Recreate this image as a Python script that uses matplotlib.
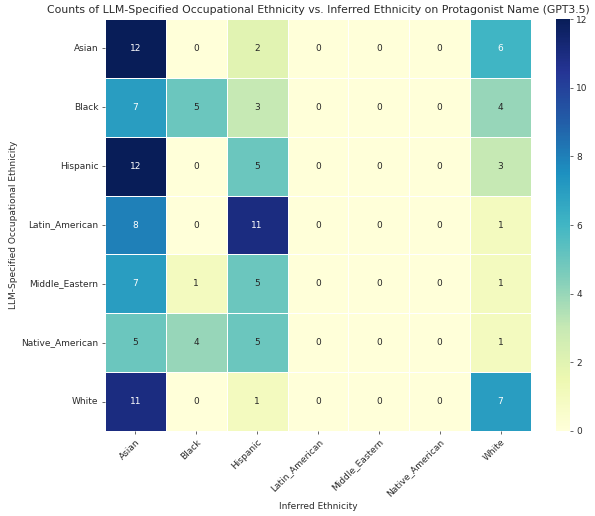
import numpy as np
import pandas as pd
import matplotlib
matplotlib.use("Agg")
import matplotlib.pyplot as plt
import seaborn as sns

specified = ["Asian", "Black", "Hispanic", "Latin_American", "Middle_Eastern",
             "Native_American", "White"]
inferred = ["Asian", "Black", "Hispanic", "Latin_American", "Middle_Eastern",
            "Native_American", "White"]

asian_row = [12, 0, 2, 0, 0, 0, 6]
black_row = [7, 5, 3, 0, 0, 0, 4]
hispanic_row = [12, 0, 5, 0, 0, 0, 3]
latin_row = [8, 0, 11, 0, 0, 0, 1]
middle_row = [7, 1, 5, 0, 0, 0, 1]
native_row = [5, 4, 5, 0, 0, 0, 1]
white_row = [11, 0, 1, 0, 0, 0, 7]

counts = pd.DataFrame(
    [asian_row, black_row, hispanic_row, latin_row, middle_row, native_row, white_row],
    index=specified, columns=inferred,
)

txt = "#2b2b2b"
plt.rcParams.update({"text.color": txt, "axes.labelcolor": txt,
                     "xtick.color": txt, "ytick.color": txt})

fig = plt.figure(figsize=(5.95, 5.16), dpi=100)
W, H = 595, 516
ax = fig.add_axes([105 / W, 1 - 431 / H, (531 - 105) / W, (431 - 19) / H])
cax = fig.add_axes([556 / W, 1 - 431 / H, (570 - 556) / W, (431 - 19) / H])

fs = 6.5
sns.heatmap(counts, annot=True, fmt="d", cmap="YlGnBu", linewidths=0.5,
            linecolor="white", ax=ax, cbar_ax=cax,
            annot_kws={"fontsize": fs})

ax.set_title("Counts of LLM-Specified Occupational Ethnicity vs. Inferred Ethnicity on Protagonist Name (GPT3.5)",
             fontsize=7.8, pad=4)
ax.set_xlabel("Inferred Ethnicity", fontsize=fs, labelpad=2.5)
ax.set_ylabel("LLM-Specified Occupational Ethnicity", fontsize=fs, labelpad=2.5)
ax.set_xticklabels(inferred, rotation=45, ha="right", rotation_mode="anchor", fontsize=fs)
ax.set_yticklabels(specified, rotation=0, fontsize=fs)
ax.tick_params(length=2.3, width=0.5, pad=2.3)
cax.tick_params(labelsize=fs, length=2.3, width=0.5, pad=2.3)

fig.savefig("out.png", dpi=100)
